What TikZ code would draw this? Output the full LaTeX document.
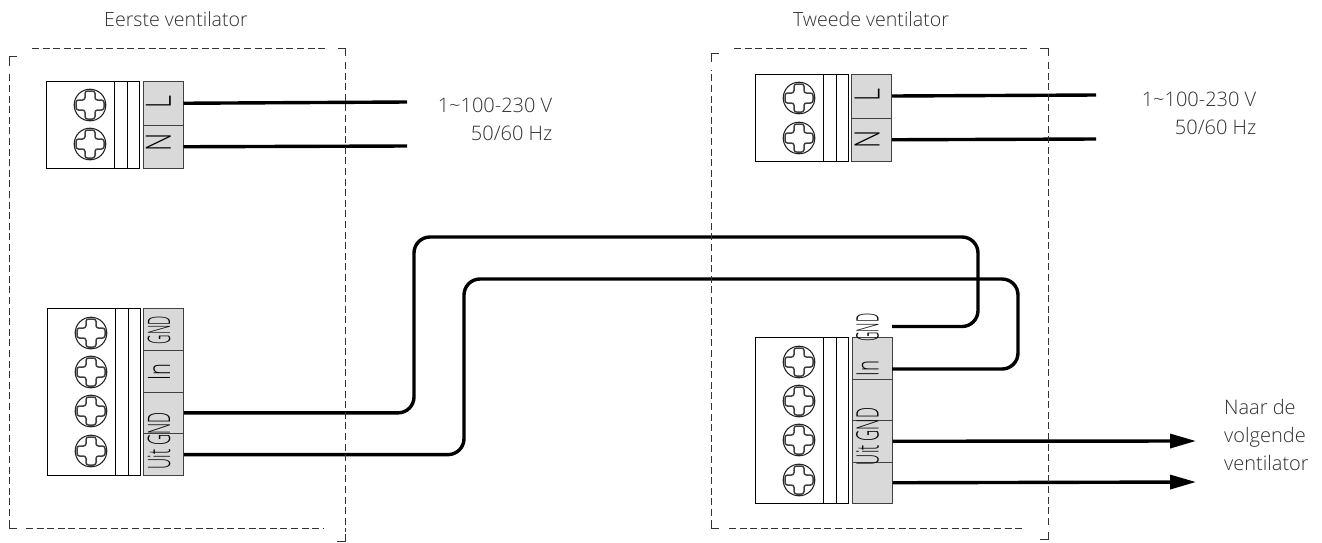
\documentclass[tikz,border=0pt]{standalone}
\usepackage{graphicx}
\usepackage{fontspec}
\setmainfont{Open Sans Light}
\usetikzlibrary{arrows.meta}
\definecolor{txtgray}{HTML}{303030}
\definecolor{cellgray}{HTML}{D9D9D9}
\begin{document}
\begin{tikzpicture}[x=1pt,y=-1pt,
% common options for the terminal parts:
body/.style = {draw, line width=1pt, anchor=north west, inner sep=0, minimum width=68pt},
strip/.style = {draw, line width=1pt, anchor=north west, inner sep=0, minimum width=12.5pt},
cell/.style = {draw=black!75, fill=cellgray, line width=1pt, anchor=north west, inner sep=0, minimum width=40pt},
% common options for the texts:
caption/.style = {text=txtgray, inner sep=0, font=\fontsize{20}{28}\selectfont},
title/.style = {text=txtgray, inner sep=0, font=\fontsize{19.6}{28}\selectfont},
mark big/.style = {rotate=90, inner sep=0, font=\fontsize{35}{35}\selectfont},
mark small/.style = {rotate=90, inner sep=0, text=black, font=\fontsize{31}{31}\selectfont},
% common options for the lines:
frame/.style = {draw=black!80, line width=0.9pt, dash pattern=on 7pt off 3.6pt},
wire/.style = {line width=3.4pt, rounded corners=16pt},
feed/.style = {line width=3.4pt, -{Triangle[length=26pt,width=14pt]}},
screw/.pic = {
  \draw[line width=1.1pt, black!85] (0,0) circle (15.8);
  \draw[line width=1.5pt, black!75, fill=white, rounded corners=2.5pt]
    (-5,-14) -- (5,-14) -- (5,-5) -- (14,-5) -- (14,5) -- (5,5) -- (5,14)
    -- (-5,14) -- (-5,5) -- (-14,5) -- (-14,-5) -- (-5,-5) -- cycle;
}]
\useasboundingbox (0,0) rectangle (1322,542);
% first fan, mains terminal
\node[body, minimum height=87pt] (bodyA) at (46,81) {};
\node[strip, minimum height=87pt] (stripAa) at (114,81) {};
\node[strip, minimum height=87pt] (stripAb) at (126.5,81) {};
\node[cell, minimum height=43.5pt] (lineA) at (142.5,81) {};
\node[cell, minimum height=43.5pt] (zeroA) at (142.5,124.5) {};
\pic at (90,105) {screw};
\pic at (90,144) {screw};
\node[mark big] (txtLA) at (158.5,102) {\scalebox{.72}[1]{L}};
\node[mark big] (txtNA) at (158.5,142.5) {\scalebox{.72}[1]{N}};
% first fan, signal terminal
\node[body, minimum height=167pt] (bodyB) at (47,308) {};
\node[strip, minimum height=167pt] (stripBa) at (115,308) {};
\node[strip, minimum height=167pt] (stripBb) at (127.5,308) {};
\node[cell, minimum height=41.75pt] (gndB) at (143,308) {};
\node[cell, minimum height=41.75pt] (inB) at (143,349.75) {};
\node[cell, minimum height=41.75pt] (outgndB) at (143,391.5) {};
\node[cell, minimum height=41.75pt] (outB) at (143,433.25) {};
\pic at (91,333) {screw};
\pic at (91,372) {screw};
\pic at (91,411) {screw};
\pic at (91,451) {screw};
\node[mark small] (txtGB) at (159,330) {\scalebox{.42}[1]{GND}};
\node[mark small] (txtIB) at (159,372) {\scalebox{.65}[1]{In}};
\node[mark small] (txtUB) at (159,441) {\scalebox{.5}[1]{Uit GND}};
% second fan, mains terminal
\node[body, minimum height=87.5pt] (bodyC) at (755,73.5) {};
\node[strip, minimum height=87.5pt] (stripCa) at (823,73.5) {};
\node[strip, minimum height=87.5pt] (stripCb) at (835.5,73.5) {};
\node[cell, minimum height=44pt] (lineC) at (851,73.5) {};
\node[cell, minimum height=43.5pt] (zeroC) at (851,117.5) {};
\pic at (799,98) {screw};
\pic at (799,138) {screw};
\node[mark big] (txtLC) at (867,95.5) {\scalebox{.72}[1]{L}};
\node[mark big] (txtNC) at (867,139) {\scalebox{.72}[1]{N}};
% second fan, signal terminal
\node[body, minimum height=166pt] (bodyD) at (755,337) {};
\node[strip, minimum height=166pt] (stripDa) at (823,337) {};
\node[strip, minimum height=166pt] (stripDb) at (835.5,337) {};
\node[cell, minimum height=41.5pt] (inD) at (851.5,337) {};
\node[cell, minimum height=41.5pt] (spareD) at (851.5,378.5) {};
\node[cell, minimum height=41.5pt] (outgndD) at (851.5,420) {};
\node[cell, minimum height=41.5pt] (outD) at (851.5,461.5) {};
\pic at (799,362) {screw};
\pic at (799,401) {screw};
\pic at (799,440) {screw};
\pic at (799,480) {screw};
\node[mark small] (txtGD) at (867.5,327.5) {\scalebox{.42}[1]{GND}};
\node[mark small] (txtID) at (867.5,368.5) {\scalebox{.6}[1]{In}};
\node[mark small] (txtUD) at (867.5,436.5) {\scalebox{.5}[1]{Uit GND}};
% texts
\node[title] (titleA) at (176,19) {Eerste ventilator};
\node[title] (titleC) at (871,19) {Tweede ventilator};
\node[caption, align=right] (mainsA) at (495,119) {1\textasciitilde100-230 V\\50/60 Hz};
\node[caption, align=right] (mainsC) at (1199,113) {1\textasciitilde100-230 V\\50/60 Hz};
\node[caption, align=left, anchor=west] (nextD) at (1224,435) {Naar de\\volgende\\ventilator};
% free ends and bends
\coordinate (endLA) at (407,102);
\coordinate (endNA) at (407,146);
\coordinate (endLC) at (1096,95);
\coordinate (endNC) at (1096,139);
\coordinate (bendA) at (414,237);
\coordinate (bendB) at (978,326.5);
\coordinate (bendC) at (464,279);
\coordinate (bendD) at (1018,369);
\coordinate (gndEnd) at (892,326.5);
\coordinate (inEnd) at (892,369);
\coordinate (tipA) at (1196,441);
\coordinate (tipB) at (1196,482);
% wires
\draw[wire] (lineA.east) -- (endLA);
\draw[wire] (zeroA.east) -- (endNA);
\draw[wire] (lineC.east) -- (endLC);
\draw[wire] (zeroC.east) -- (endNC);
\draw[wire] (outgndB.east) -| (bendA) -| (bendB) -- (gndEnd);
\draw[wire] (outB.east) -| (bendC) -| (bendD) -- (inEnd);
\draw[feed] (outgndD.east) -- (tipA);
\draw[feed] (outD.east) -- (tipB);
% dashed outlines of the fans
\draw[frame] (32,48) -- (328,48);
\draw[frame, dash pattern=] (338,48) -- (345.5,48) -- (345.5,56);
\draw[frame] (345.5,62) -- (345.5,532);
\draw[frame, dash pattern=] (345.5,534) -- (345.5,541) -- (337,541);
\draw[frame] (26,528) -- (323,528);
\draw[frame, dash pattern=] (17,528) -- (9,528) -- (9,520);
\draw[frame] (9,516) -- (9,72);
\draw[frame, dash pattern=] (9,66) -- (9,56) -- (17,56);
\draw[frame] (734,48) -- (1030,48);
\draw[frame, dash pattern=] (1040,48) -- (1048,48) -- (1048,56);
\draw[frame] (1048,62) -- (1048,528);
\draw[frame, dash pattern=] (1048,532) -- (1048,539) -- (1040,539);
\draw[frame] (729,528) -- (1025,528);
\draw[frame, dash pattern=] (719,528) -- (711,528) -- (711,520);
\draw[frame] (711,516) -- (711,70);
\draw[frame, dash pattern=] (711,62) -- (711,53) -- (719,53);
\end{tikzpicture}
\end{document}
